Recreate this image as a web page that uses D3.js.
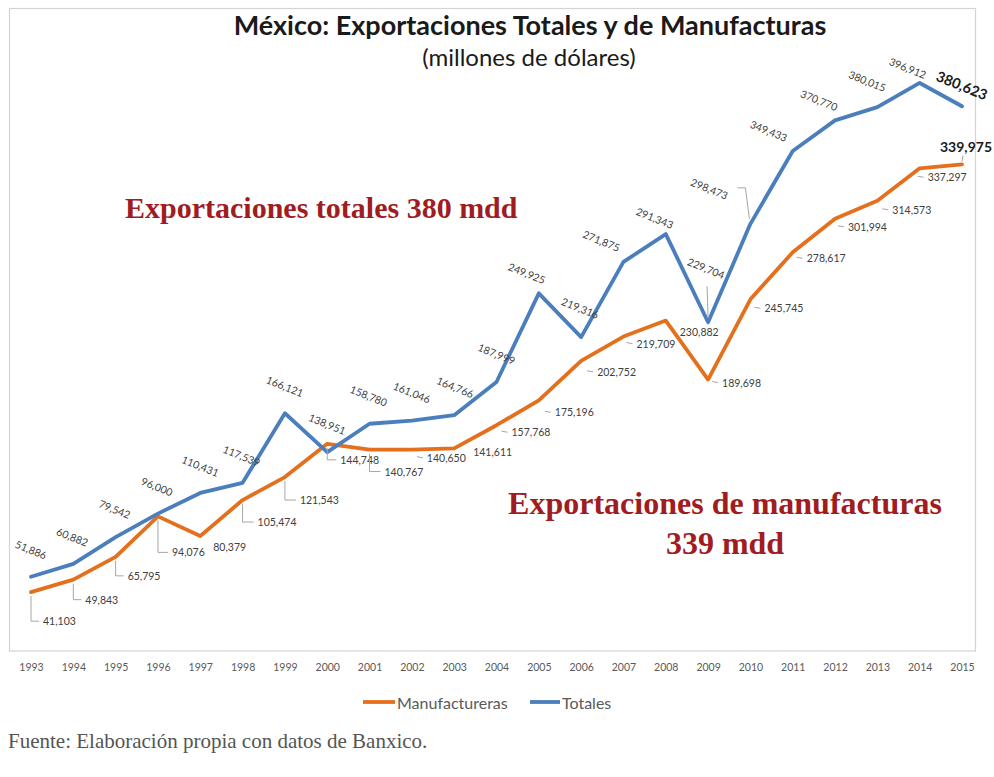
<!DOCTYPE html>
<html>
<head>
<meta charset="utf-8">
<script src="https://cdn.jsdelivr.net/npm/d3@7"></script>
<style>
  body { margin: 0; background: #fff; }
  svg { display: block; }
</style>
</head>
<body>
<svg id="chart" width="994" height="777"></svg>
<script>
// Exportaciones de México, millones de dólares
const years = [1993, 1994, 1995, 1996, 1997, 1998, 1999, 2000, 2001, 2002, 2003, 2004,
               2005, 2006, 2007, 2008, 2009, 2010, 2011, 2012, 2013, 2014, 2015];
const manufactureras = [41103, 49843, 65795, 94076, 80379, 105474, 121543, 144748, 140767, 140650,
                        141611, 157768, 175196, 202752, 219709, 230882, 189698, 245745, 278617,
                        301994, 314573, 337297, 339975];
const totales = [51886, 60882, 79542, 96000, 110431, 117539, 166121, 138951, 158780, 161046,
                 164766, 187999, 249925, 219316, 271875, 291343, 229704, 298473, 349433, 370770,
                 380015, 396912, 380623];
const seriesNames = ["Manufactureras", "Totales"];

// Label placement: offset of each value label from its point, plus leader style
const totalesLabelPos = [
  [0, -27], [-1, -27], [-1, -28], [-1, -27], [0, -27], [-1, -27], [0, -27], [0, -28],
  [-1, -28], [0, -28], [1, -28], [0, -28], [-12, -20], [-1, -29], [-22, -21], [-11, -16],
  [-2, -54, "v"], [-41, -35, "hook"], [-24, -20], [-16, -20], [-10, -26], [-12, -15], [0, -21, "bold"]
];
const manufLabelPos = [
  [12, 29, "L"], [12, 20, "L"], [12, 19, "L"], [14, 36, "L"], [13, 11, "none"], [15, 22, "L"],
  [15, 23, "L"], [13, 16, "L"], [15, 22, "L"], [15, 8, "dash"], [19, 4, "none"], [15, 7, "dash"],
  [16, 12, "dash"], [16, 11, "dash"], [13, 7, "dash"], [14, 11, "none"], [14, 3, "dash"],
  [14, 9, "dash"], [14, 6, "dash"], [13, 8, "dash"], [15, 9, "dash"], [8, 9, "dash"], [4, -18, "up"]
];

const colors = { Manufactureras: "#E4701E", Totales: "#4A7EBD" };
const fmt = d3.format(",");
const sans = "Lato, 'Open Sans', sans-serif";
const serif = "'Liberation Serif', 'DejaVu Serif', serif";

const svg = d3.select("#chart");
svg.append("rect").attr("width", 994).attr("height", 777).attr("fill", "#fff");

const x = d3.scalePoint().domain(years).range([31, 962]);
const y = d3.scaleLinear().domain([0, 450000]).range([651, 7]);

// Plot frame
svg.append("rect")
  .attr("x", 9.5).attr("y", 8.5).attr("width", 966).attr("height", 642.5)
  .attr("fill", "none").attr("stroke", "#D4D4D4").attr("stroke-width", 1.2);

// Year axis
const xAxis = svg.append("g")
  .attr("transform", "translate(0,651)")
  .call(d3.axisBottom(x).tickSize(0).tickPadding(13));
xAxis.select(".domain").remove();
xAxis.selectAll("text")
  .attr("font-family", sans).attr("font-size", 10.5).attr("fill", "#595959");

// Title
svg.append("text")
  .attr("x", 530).attr("y", 35).attr("text-anchor", "middle")
  .attr("font-family", sans).attr("font-weight", "bold").attr("font-size", 27)
  .attr("fill", "#1a1a1a")
  .text("México: Exportaciones Totales y de Manufacturas");
svg.append("text")
  .attr("x", 529).attr("y", 66).attr("text-anchor", "middle")
  .attr("font-family", sans).attr("font-size", 24).attr("fill", "#1a1a1a")
  .text("(millones de dólares)");

// Lines
const line = d3.line().x((d, i) => x(years[i])).y(d => y(d));
[["Manufactureras", manufactureras], ["Totales", totales]].forEach(([name, vals]) => {
  svg.append("path")
    .datum(vals)
    .attr("d", line)
    .attr("fill", "none")
    .attr("stroke", colors[name])
    .attr("stroke-width", 3.8)
    .attr("stroke-linejoin", "round")
    .attr("stroke-linecap", "round");
});

const leaderColor = "#A6A6A6";
const labelColor = "#404040";

// Manufactureras value labels
const mLab = svg.append("g");
manufactureras.forEach((v, i) => {
  const px = x(years[i]), py = y(v);
  const [dx, dy, kind] = manufLabelPos[i];
  const lx = px + dx, ly = py + dy;
  let d = null;
  if (kind === "L") d = `M${px},${py + 4}V${ly}H${lx - 4}`;
  else if (kind === "dash") d = `M${lx - 10},${ly - 1}L${lx - 4},${ly}`;
  else if (kind === "up") d = `M${px},${py - 3}L${px + 1},${py - 9}`;
  if (d) mLab.append("path").attr("d", d).attr("fill", "none")
    .attr("stroke", leaderColor).attr("stroke-width", 1);
  const bold = kind === "up";
  mLab.append("text")
    .attr("x", lx).attr("y", ly)
    .attr("dominant-baseline", "central")
    .attr("text-anchor", bold ? "middle" : "start")
    .attr("font-family", sans)
    .attr("font-size", bold ? 14 : 10.5)
    .attr("font-weight", bold ? "bold" : "normal")
    .attr("fill", bold ? "#1a1a1a" : labelColor)
    .text(fmt(v));
});

// Totales value labels (rotated)
const tLab = svg.append("g");
totales.forEach((v, i) => {
  const px = x(years[i]), py = y(v);
  const [dx, dy, kind] = totalesLabelPos[i];
  const lx = px + dx, ly = py + dy;
  let d = null;
  if (kind === "v") d = `M${px - 1},${ly + 18}L${px},${py - 4}`;
  else if (kind === "hook") d = `M${lx + 28},${ly - 1}H${lx + 36}L${px - 1},${py - 5}`;
  if (d) tLab.append("path").attr("d", d).attr("fill", "none")
    .attr("stroke", leaderColor).attr("stroke-width", 1);
  const bold = kind === "bold";
  tLab.append("text")
    .attr("transform", `translate(${lx},${ly}) rotate(22)`)
    .attr("dominant-baseline", "central")
    .attr("text-anchor", "middle")
    .attr("font-family", sans)
    .attr("font-size", bold ? 14.5 : 10.5)
    .attr("font-weight", bold ? "bold" : "normal")
    .attr("fill", bold ? "#1a1a1a" : labelColor)
    .text(fmt(v));
});

// Annotations
const red = "#A11C1F";
svg.append("text")
  .attr("x", 125).attr("y", 218)
  .attr("font-family", serif).attr("font-weight", "bold").attr("font-size", 30)
  .attr("fill", red)
  .text("Exportaciones totales 380 mdd");
svg.append("text")
  .attr("x", 725).attr("y", 514).attr("text-anchor", "middle")
  .attr("font-family", serif).attr("font-weight", "bold").attr("font-size", 32)
  .attr("fill", red)
  .text("Exportaciones de manufacturas");
svg.append("text")
  .attr("x", 725).attr("y", 554).attr("text-anchor", "middle")
  .attr("font-family", serif).attr("font-weight", "bold").attr("font-size", 32)
  .attr("fill", red)
  .text("339 mdd");

// Legend
const legend = svg.append("g");
const legendItems = [
  { name: seriesNames[0], x0: 363, x1: 395 },
  { name: seriesNames[1], x0: 530, x1: 560 }
];
legendItems.forEach(it => {
  legend.append("line")
    .attr("x1", it.x0).attr("x2", it.x1).attr("y1", 702).attr("y2", 702)
    .attr("stroke", colors[it.name]).attr("stroke-width", 3.8);
  legend.append("text")
    .attr("x", it.x1 + 2).attr("y", 702).attr("dominant-baseline", "central")
    .attr("font-family", sans).attr("font-size", 16).attr("fill", "#595959")
    .text(it.name);
});

// Source note
svg.append("text")
  .attr("x", 8).attr("y", 748)
  .attr("font-family", serif).attr("font-size", 21).attr("fill", "#555")
  .text("Fuente: Elaboración propia con datos de Banxico.");
</script>
</body>
</html>
